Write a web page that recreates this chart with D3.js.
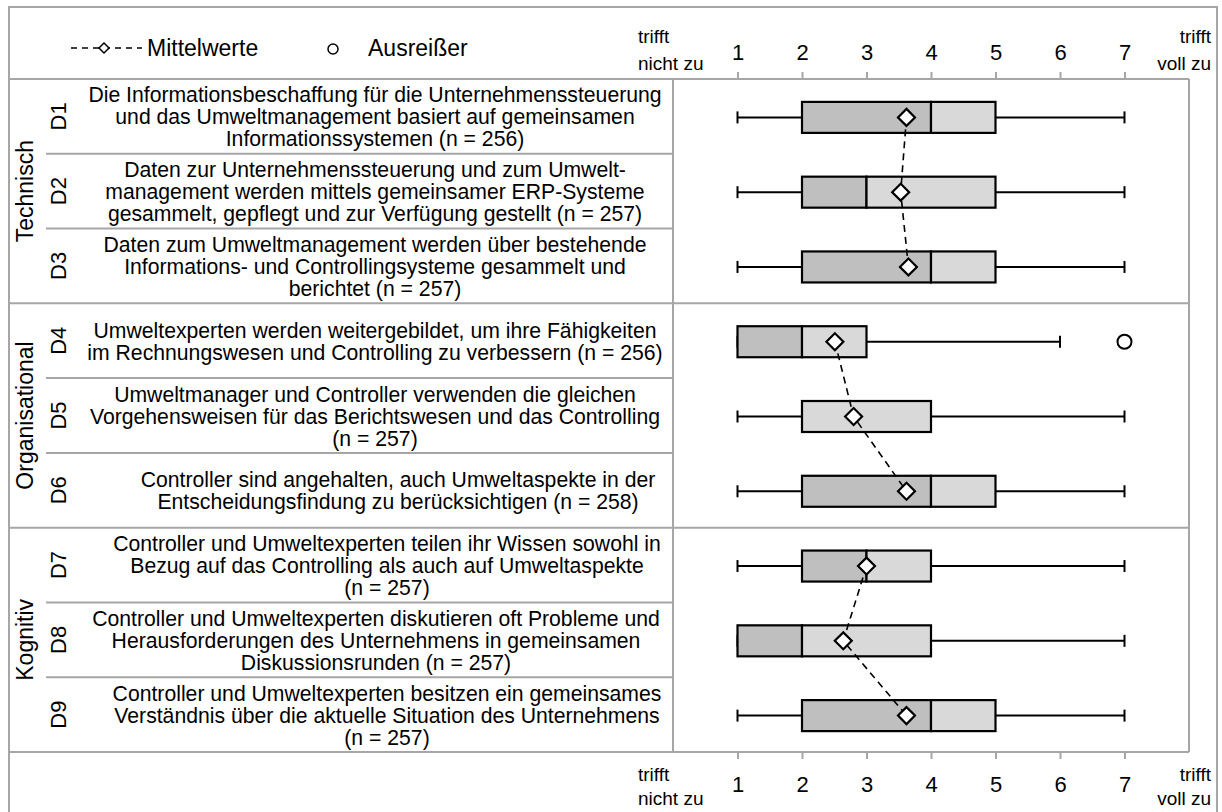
<!DOCTYPE html>
<html><head><meta charset="utf-8">
<script src="https://cdn.jsdelivr.net/npm/d3@7/dist/d3.min.js"></script>
<style>
html,body{margin:0;padding:0;background:#fff;}
svg text{font-family:"Liberation Sans",Arial,sans-serif;fill:#000;}
</style></head>
<body><svg id="c" width="1222" height="812"></svg>
<script>
const items = ["D1","D2","D3","D4","D5","D6","D7","D8","D9"];
const groups = ["Technisch","Organisational","Kognitiv"];
const groupOf = [0,0,0,1,1,1,2,2,2];
const labels = [
 ["Die Informationsbeschaffung für die Unternehmenssteuerung","und das Umweltmanagement basiert auf gemeinsamen","Informationssystemen (n = 256)"],
 ["Daten zur Unternehmenssteuerung und zum Umwelt-","management werden mittels gemeinsamer ERP-Systeme","gesammelt, gepflegt und zur Verfügung gestellt (n = 257)"],
 ["Daten zum Umweltmanagement werden über bestehende","Informations- und Controllingsysteme gesammelt und","berichtet (n = 257)"],
 ["Umweltexperten werden weitergebildet, um ihre Fähigkeiten","im Rechnungswesen und Controlling zu verbessern (n = 256)"],
 ["Umweltmanager und Controller verwenden die gleichen","Vorgehensweisen für das Berichtswesen und das Controlling","(n = 257)"],
 ["Controller sind angehalten, auch Umweltaspekte in der","Entscheidungsfindung zu berücksichtigen (n = 258)"],
 ["Controller und Umweltexperten teilen ihr Wissen sowohl in","Bezug auf das Controlling als auch auf Umweltaspekte","(n = 257)"],
 ["Controller und Umweltexperten diskutieren oft Probleme und","Herausforderungen des Unternehmens in gemeinsamen","Diskussionsrunden (n = 257)"],
 ["Controller und Umweltexperten besitzen ein gemeinsames","Verständnis über die aktuelle Situation des Unternehmens","(n = 257)"]
];
const mins    = [1,1,1,1,1,1,1,1,1];
const q1s     = [2,2,2,1,2,2,2,1,2];
const medians = [4,3,4,2,2,4,3,2,4];
const q3s     = [5,5,5,3,4,5,4,4,5];
const maxs    = [7,7,7,6,7,7,7,7,7];
const means   = [3.62,3.53,3.65,2.51,2.80,3.62,3.00,2.64,3.62];
const outliers = [[],[],[],[7],[],[],[],[],[]];
const tickValues = [1,2,3,4,5,6,7];
const scaleLow = ["trifft","nicht zu"];
const scaleHigh = ["trifft","voll zu"];
const legendMean = "Mittelwerte";
const legendOut = "Ausreißer";

// layout
const labelCenterX = [375,375,375,375,375,398,387,376,387];
const svg = d3.select("#c");
const L = 9, T = 7, R = 1217;
const plotL = 673, plotR = 1189, plotT = 79, plotB = 752;
const grey = "#a6a6a6";
const x = d3.scaleLinear().domain([0,8]).range([plotL, plotR]);
const y = d3.scaleBand().domain(items).range([plotT, plotB]);
const FS = 21.2;

// frame
const g0 = svg.append("g").attr("fill","none").attr("stroke",grey).attr("stroke-width",2);
g0.append("path").attr("d",`M${L},830V${T}H${R}V830`);
g0.append("line").attr("x1",L).attr("x2",plotR).attr("y1",plotT).attr("y2",plotT);
g0.append("line").attr("x1",L).attr("x2",plotR).attr("y1",plotB).attr("y2",plotB);
g0.append("line").attr("x1",plotL).attr("x2",plotL).attr("y1",plotT).attr("y2",plotB);
g0.append("line").attr("x1",plotR).attr("x2",plotR).attr("y1",plotT).attr("y2",plotB);
items.forEach((d,i)=>{
  if(i===0) return;
  const yy = y(d);
  if(groupOf[i]!==groupOf[i-1]){
    g0.append("line").attr("x1",L).attr("x2",plotR).attr("y1",yy).attr("y2",yy);
  } else {
    g0.append("line").attr("x1",46).attr("x2",plotL).attr("y1",yy).attr("y2",yy);
  }
});

// axes
function styleAxis(g, top){
  g.select(".domain").remove();
  g.selectAll(".tick line").attr("stroke",grey).attr("stroke-width",2);
  g.selectAll(".tick text").attr("font-size",22).attr("font-family","Liberation Sans, Arial")
   .attr("dy",null).attr("y", top ? -19 : 40);
}
svg.append("g").attr("transform",`translate(0,${plotT})`)
  .call(d3.axisTop(x).tickValues(tickValues).tickSize(7).tickFormat(d3.format("d")))
  .call(g=>styleAxis(g,true));
svg.append("g").attr("transform",`translate(0,${plotB})`)
  .call(d3.axisBottom(x).tickValues(tickValues).tickSize(7).tickFormat(d3.format("d")))
  .call(g=>styleAxis(g,false));

function scaleText(yy1, yy2){
  svg.append("text").attr("x",638).attr("y",yy1).attr("font-size",19).text(scaleLow[0]);
  svg.append("text").attr("x",638).attr("y",yy2).attr("font-size",19).text(scaleLow[1]);
  svg.append("text").attr("x",1211).attr("y",yy1).attr("font-size",19).attr("text-anchor","end").text(scaleHigh[0]);
  svg.append("text").attr("x",1211).attr("y",yy2).attr("font-size",19).attr("text-anchor","end").text(scaleHigh[1]);
}
scaleText(43,70);
scaleText(781,805);

// legend
const lg = svg.append("g");
lg.append("line").attr("x1",71).attr("x2",142).attr("y1",48).attr("y2",48)
  .attr("stroke","#000").attr("stroke-width",1.5).attr("stroke-dasharray","6,5");
lg.append("path").attr("d",d3.symbol(d3.symbolSquare,50)())
  .attr("transform","translate(104,48) rotate(45)").attr("fill","#fff").attr("stroke","#000").attr("stroke-width",1.5);
lg.append("text").attr("x",147).attr("y",56).attr("font-size",23).text(legendMean);
lg.append("circle").attr("cx",333).attr("cy",49).attr("r",5).attr("fill","#fff").attr("stroke","#000").attr("stroke-width",1.5);
lg.append("text").attr("x",368).attr("y",56).attr("font-size",23).text(legendOut);

// group labels
groups.forEach((gname,gi)=>{
  const idx = items.filter((d,i)=>groupOf[i]===gi);
  const cy = (y(idx[0]) + y(idx[idx.length-1]) + y.bandwidth())/2;
  svg.append("text").attr("transform",`translate(33,${cy}) rotate(-90)`)
    .attr("text-anchor","middle").attr("font-size",23).text(gname);
});

// row labels
items.forEach((d,i)=>{
  const cy = y(d) + y.bandwidth()/2;
  svg.append("text").attr("transform",`translate(66,${cy}) rotate(-90)`)
    .attr("text-anchor","middle").attr("font-size",22).text(d);
  const lines = labels[i];
  const lh = 22;
  const t = svg.append("text").attr("text-anchor","middle").attr("font-size",FS);
  lines.forEach((ln,k)=>{
    t.append("tspan").attr("x",labelCenterX[i]).attr("y", cy + (k - (lines.length-1)/2)*lh + 8).text(ln);
  });
});

// boxes
const bh = 31, capH = 12;
const bx = svg.append("g");
items.forEach((d,i)=>{
  const cy = y(d) + y.bandwidth()/2 + 1;
  bx.append("line").attr("x1",x(mins[i])).attr("x2",x(q1s[i])).attr("y1",cy).attr("y2",cy).attr("stroke","#000").attr("stroke-width",2);
  bx.append("line").attr("x1",x(q3s[i])).attr("x2",x(maxs[i])).attr("y1",cy).attr("y2",cy).attr("stroke","#000").attr("stroke-width",2);
  [mins[i],maxs[i]].forEach(v=>bx.append("line").attr("x1",x(v)).attr("x2",x(v)).attr("y1",cy-capH/2).attr("y2",cy+capH/2).attr("stroke","#000").attr("stroke-width",2));
  bx.append("rect").attr("x",x(q1s[i])).attr("width",x(medians[i])-x(q1s[i])).attr("y",cy-bh/2).attr("height",bh)
    .attr("fill","#bfbfbf").attr("stroke","#000").attr("stroke-width",2.2);
  bx.append("rect").attr("x",x(medians[i])).attr("width",x(q3s[i])-x(medians[i])).attr("y",cy-bh/2).attr("height",bh)
    .attr("fill","#d9d9d9").attr("stroke","#000").attr("stroke-width",2.2);
  outliers[i].forEach(v=>bx.append("circle").attr("cx",x(v)).attr("cy",cy).attr("r",7)
    .attr("fill","#fff").attr("stroke","#000").attr("stroke-width",2));
});

// mean lines per group
const line = d3.line().x(i=>x(means[i])).y(i=>y(items[i])+y.bandwidth()/2+1);
groups.forEach((gname,gi)=>{
  const idx = d3.range(items.length).filter(i=>groupOf[i]===gi);
  svg.append("path").attr("d",line(idx)).attr("fill","none").attr("stroke","#000")
    .attr("stroke-width",1.6).attr("stroke-dasharray","7,5");
});
items.forEach((d,i)=>{
  const cy = y(d) + y.bandwidth()/2 + 1;
  svg.append("path").attr("d",d3.symbol(d3.symbolSquare,144)())
    .attr("transform",`translate(${x(means[i])},${cy}) rotate(45)`)
    .attr("fill","#fff").attr("stroke","#000").attr("stroke-width",2.2);
});
</script></body></html>
